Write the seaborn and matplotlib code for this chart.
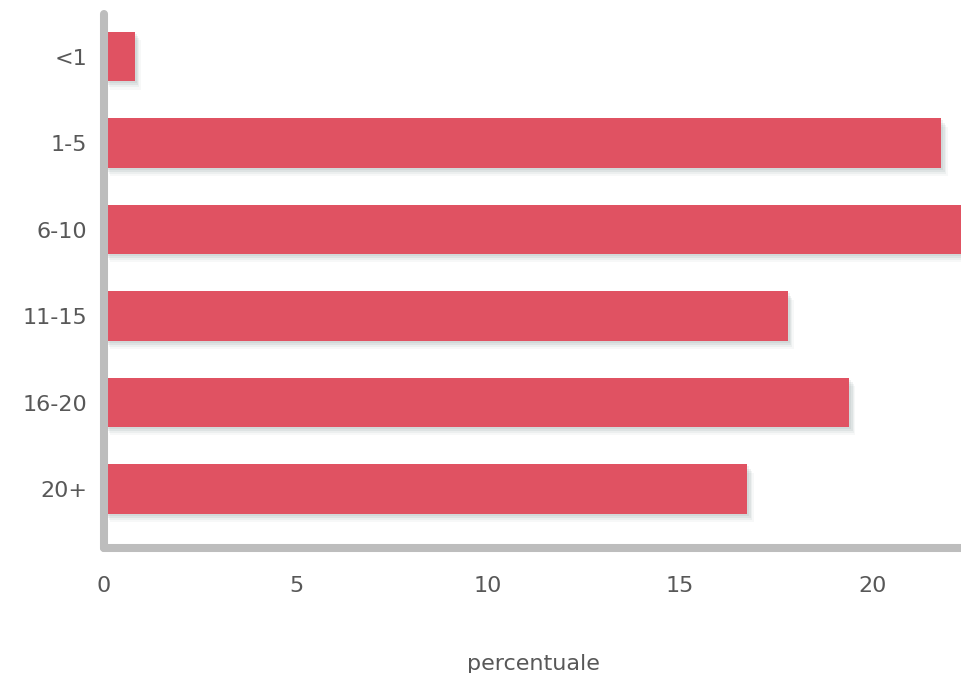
import matplotlib
matplotlib.use("Agg")
import matplotlib.pyplot as plt
import matplotlib.patheffects as pe
import seaborn as sns
import pandas as pd

categories = ["<1", "1-5", "6-10", "11-15", "16-20", "20+"]
values = [0.8, 21.8, 22.6, 17.8, 19.4, 16.75]
xticks = [0, 5, 10, 15, 20]

df = pd.DataFrame({"classe": categories, "percentuale": values})

sns.set_theme(style="white")
plt.rcParams["font.family"] = ["DejaVu Sans"]

fig = plt.figure(figsize=(9.62, 6.73), dpi=100)
ax = fig.add_axes([0.108, 0.186, 0.892, 0.793])

sns.barplot(data=df, y="classe", x="percentuale", orient="h", color="#E05262",
            saturation=1, width=0.57, linewidth=0, ax=ax)

shadow = []
for off, a in [((1.5, -1.5), 0.10), ((2.5, -3), 0.10), ((3.5, -4.5), 0.08), ((4.5, -6), 0.05)]:
    shadow.append(pe.SimplePatchShadow(offset=off, shadow_rgbFace="#6f8585", alpha=a))
for p in ax.patches:
    p.set_path_effects(shadow + [pe.Normal()])

ax.set_xlim(0, 22.34)
ax.set_ylim(5.68, -0.49)
ax.set_xticks(xticks)
ax.set_xticklabels([str(t) for t in xticks])

for s in ["top", "right"]:
    ax.spines[s].set_visible(False)
for s in ["left", "bottom"]:
    ax.spines[s].set_color("#BDBDBD")
    ax.spines[s].set_linewidth(5.8)
    ax.spines[s].set_capstyle("round")
    ax.spines[s].set_zorder(5)

ax.tick_params(axis="both", length=0, labelsize=16, labelcolor="#585858")
ax.tick_params(axis="x", pad=20)
ax.tick_params(axis="y", pad=12)
ax.set_ylabel("")
ax.set_xlabel("percentuale", fontsize=16, color="#585858", labelpad=42)

fig.savefig("out.png", dpi=100)
